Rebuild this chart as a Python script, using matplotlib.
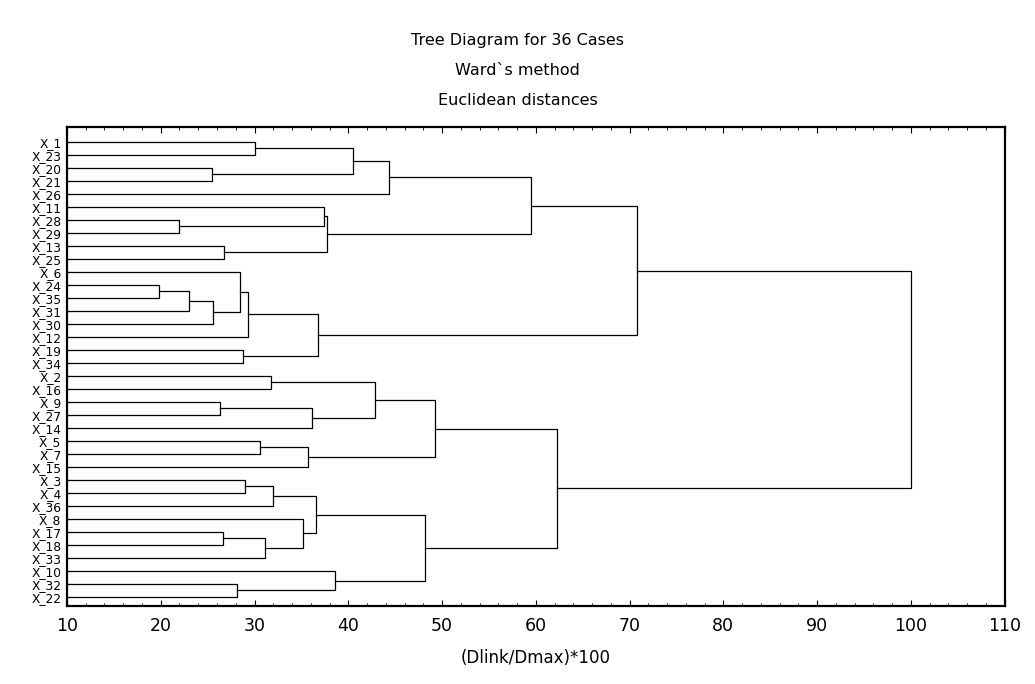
import matplotlib
matplotlib.use("Agg")
import matplotlib.pyplot as plt
from matplotlib.ticker import MultipleLocator
import numpy as np

# leaf labels, top to bottom
leaf_ids = [1, 23, 20, 21, 26, 11, 28, 29, 13, 25, 6, 24, 35, 31, 30, 12, 19, 34,
            2, 16, 9, 27, 14, 5, 7, 15, 3, 4, 36, 8, 17, 18, 33, 10, 32, 22]
labels = ["X_%d" % i for i in leaf_ids]

# merges: node ids 0..35 are leaves (row order), 36+k is the k-th merge
merge_a = [11, 6, 36, 2, 38, 20, 30, 8, 34, 10, 16, 26, 45, 0, 23, 42, 18, 47,
           29, 50, 41, 53, 48, 5, 59, 33, 49, 52, 62, 57, 63, 64, 66, 67, 69]
merge_b = [12, 7, 13, 3, 14, 21, 31, 9, 35, 40, 17, 27, 15, 1, 24, 32, 19, 28,
           51, 25, 22, 54, 46, 37, 43, 44, 39, 56, 4, 61, 55, 60, 65, 58, 68]
merge_h = [19.8, 21.9, 23.0, 25.5, 25.6, 26.3, 26.6, 26.7, 28.1, 28.4, 28.8, 29.0,
           29.3, 30.0, 30.6, 31.1, 31.8, 32.0, 35.2, 35.7, 36.1, 36.6, 36.8, 37.4,
           37.7, 38.6, 40.5, 42.8, 44.3, 48.2, 49.2, 59.5, 62.3, 70.8, 100.0]

n = len(labels)
xmin = 10

fig = plt.figure(figsize=(10.35, 6.84), dpi=100)
ax = fig.add_axes([0.0647, 0.114, 0.906, 0.700])

ys = list(np.arange(n, dtype=float))
xs = [xmin] * n
for a, b, h in zip(merge_a, merge_b, merge_h):
    ax.plot([xs[a], h, h, xs[b]], [ys[a], ys[a], ys[b], ys[b]], color="k", lw=0.9)
    ys.append((ys[a] + ys[b]) / 2)
    xs.append(h)

ax.set_xlim(10, 110)
ax.set_ylim(35.7, -1.1)
ax.xaxis.set_major_locator(MultipleLocator(10))
ax.xaxis.set_minor_locator(MultipleLocator(2))
ax.tick_params(axis="x", which="both", direction="in", top=True, labelsize=12.5, pad=8)
ax.tick_params(axis="x", which="major", length=4)
ax.tick_params(axis="x", which="minor", length=2)
ax.set_yticks(range(n))
ax.set_yticklabels(labels, fontsize=8.8)
ax.tick_params(axis="y", direction="in", length=3, pad=4)
for s in ax.spines.values():
    s.set_linewidth(1.6)

ax.set_xlabel("(Dlink/Dmax)*100", fontsize=12, labelpad=10)
fig.text(0.5, 0.934, "Tree Diagram for 36 Cases", ha="center", fontsize=11.5)
fig.text(0.5, 0.890, "Ward`s method", ha="center", fontsize=11.5)
fig.text(0.5, 0.846, "Euclidean distances", ha="center", fontsize=11.5)

fig.savefig("out.png", dpi=100)
